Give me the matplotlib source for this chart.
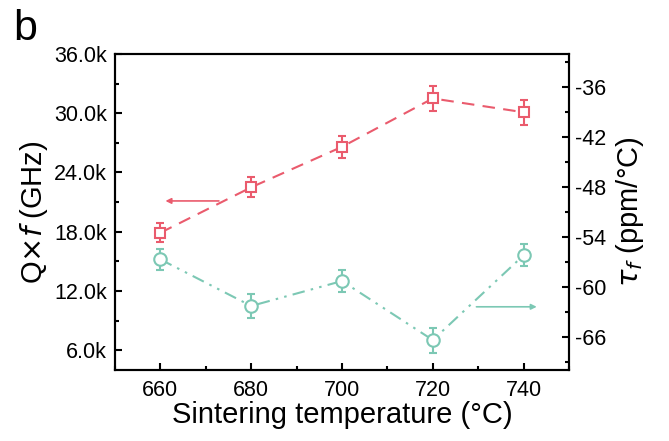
import matplotlib.pyplot as plt
from matplotlib.ticker import MultipleLocator, FuncFormatter

plt.rcParams["font.family"] = ["Liberation Sans", "DejaVu Sans"]
plt.rcParams["axes.unicode_minus"] = False

# data
temps = [660, 680, 700, 720, 740]
qf = [17900, 22500, 26600, 31500, 30100]
qf_err = [950, 1000, 1100, 1300, 1250]
tau = [-56.7, -62.3, -59.3, -66.4, -56.2]
tau_err = [1.3, 1.4, 1.3, 1.5, 1.3]

RED = "#EA5B6D"
TEAL = "#7CC8B4"

fig = plt.figure(figsize=(6.69, 4.41), dpi=100)
ax = fig.add_axes([115 / 669, 1 - 370 / 441, 454 / 669, 316 / 441])
ax2 = ax.twinx()

ax.errorbar(temps, qf, yerr=qf_err, color=RED, marker="s", mfc="white",
            ms=7, mew=1.5, lw=1.5, ls=(0, (6, 4)), capsize=3, elinewidth=1.5,
            capthick=1.5)
ax2.errorbar(temps, tau, yerr=tau_err, color=TEAL, marker="o", mfc="white",
             ms=9, mew=1.5, lw=1.5, ls=(0, (6, 3, 1.2, 3, 1.2, 3)), capsize=3,
             elinewidth=1.5, capthick=1.5)

ax.set_xlim(650, 750)
ax.set_ylim(4000, 36000)
ax2.set_ylim(-70, -32)

ax.xaxis.set_major_locator(MultipleLocator(20))
ax.xaxis.set_minor_locator(MultipleLocator(10))
ax.yaxis.set_major_locator(MultipleLocator(6000))
ax.yaxis.set_minor_locator(MultipleLocator(3000))
ax.yaxis.set_major_formatter(FuncFormatter(lambda v, p: f"{v / 1000:.1f}k"))
ax2.yaxis.set_minor_locator(MultipleLocator(3))
ax2.set_yticks([-36, -42, -48, -54, -60, -66])

for a in (ax, ax2):
    for s in a.spines.values():
        s.set_linewidth(1.5)
    a.tick_params(which="both", direction="in", labelsize=15.5, width=1.5, pad=4)
    a.tick_params(which="major", length=5)
    a.tick_params(which="minor", length=3)
ax.tick_params(top=False, right=False)
ax.tick_params(axis="x", pad=7)
ax.tick_params(axis="y", pad=6)

ax.set_xlabel("Sintering temperature (°C)", fontsize=21, labelpad=0)
ax.set_ylabel(r"Q$\times$$\it{f}$ (GHz)", fontsize=21, labelpad=3)
ax2.set_ylabel(r"$\tau_f$ (ppm/°C)", fontsize=21, rotation=90, labelpad=6)

ax.annotate("", xy=(0.105, 0.535), xytext=(0.235, 0.535), xycoords="axes fraction",
            arrowprops=dict(arrowstyle="-|>", color=RED, lw=1.2, mutation_scale=8))
ax.annotate("", xy=(0.935, 0.2), xytext=(0.79, 0.2), xycoords="axes fraction",
            arrowprops=dict(arrowstyle="-|>", color=TEAL, lw=1.2, mutation_scale=8))

fig.text(13 / 669, 1 - 40 / 441, "b", fontsize=31, family="Liberation Sans")

fig.savefig("out.png", dpi=100)
